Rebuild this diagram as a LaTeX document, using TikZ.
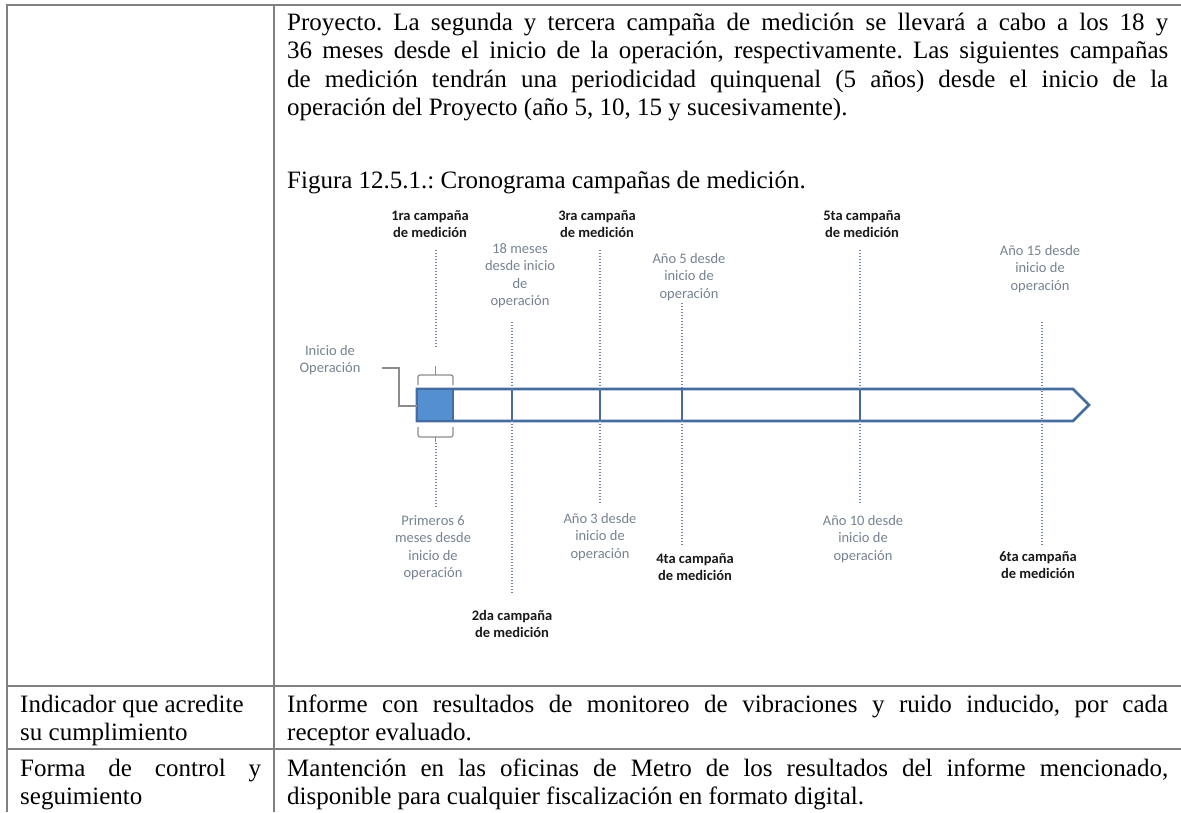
\documentclass[tikz,border=0pt]{standalone}
\usepackage{fontspec}
\setmainfont{Liberation Serif}
\newfontfamily\figfont{Carlito}
\frenchspacing
\definecolor{tblline}{RGB}{128,128,128}
\definecolor{barblue}{RGB}{68,108,158}
\definecolor{sqblue}{RGB}{84,143,207}
\definecolor{dotblue}{RGB}{110,132,160}
\definecolor{lblgrey}{RGB}{118,130,145}
\definecolor{brk}{RGB}{140,140,140}
\begin{document}
\begin{tikzpicture}[x=1pt,y=-1pt,
 txt/.style={anchor=base west,inner sep=0pt,font=\fontsize{25}{28.5}\selectfont\frenchspacing},
 lbl/.style={align=center,inner sep=0pt,anchor=north,text=lblgrey,font=\figfont\fontsize{14.5}{17.5}\selectfont},
 blbl/.style={align=center,inner sep=0pt,anchor=north,text=black!90,font=\figfont\bfseries\fontsize{14.5}{17.5}\selectfont},
 dots/.style={dotblue,line width=2pt,dash pattern=on 1.4pt off 1.6pt},
 tbl/.style={tblline,line width=1.6pt},
 brace/.style={brk,line width=1.2pt,rounded corners=2pt},
 divline/.style={barblue,line width=2.2pt}]
\useasboundingbox (0,0) rectangle (1181,812);
% table
\draw[tbl] (7,812) |- (1181,5);
\draw[tbl] (274,5) -- (274,812);
\draw[tbl] (7,686) -- (1181,686);
\draw[tbl] (7,749) -- (1181,749);
% paragraph
\node[txt] (p1) at (287,30) {\makebox[881pt][s]{Proyecto. La segunda y tercera campaña de medición se llevará a cabo a los 18 y}};
\node[txt] (p2) at (287,58.5) {\makebox[881pt][s]{36 meses desde el inicio de la operación, respectivamente. Las siguientes campañas}};
\node[txt] (p3) at (287,87) {\makebox[881pt][s]{de medición tendrán una periodicidad quinquenal (5 años) desde el inicio de la}};
\node[txt] (p4) at (287,115.5) {operación del Proyecto (año 5, 10, 15 y sucesivamente).};
\node[txt] (fig) at (287,188) {Figura 12.5.1.: Cronograma campañas de medición.};
% rows
\node[txt] (r2a) at (20,712) {Indicador que acredite};
\node[txt] (r2b) at (20,740.5) {su cumplimiento};
\node[txt] (r2c) at (287,712) {\makebox[881pt][s]{Informe con resultados de monitoreo de vibraciones y ruido inducido, por cada}};
\node[txt] (r2d) at (287,740.5) {receptor evaluado.};
\node[txt] (r3a) at (20,776) {\makebox[241pt][s]{Forma de control y}};
\node[txt] (r3b) at (20,804) {seguimiento};
\node[txt] (r3c) at (287,776) {\makebox[881pt][s]{Mantención en las oficinas de Metro de los resultados del informe mencionado,}};
\node[txt] (r3d) at (287,804) {disponible para cualquier fiscalización en formato digital.};
% timeline bar
\draw[barblue,line width=2.6pt,fill=white,line join=miter] (417,389) -- (1073,389) -- (1089,405) -- (1073,421) -- (417,421) -- cycle;
\draw[barblue,line width=2pt,fill=sqblue] (417,389) rectangle (453,421);
\draw[divline] (512,389) -- (512,421);
\draw[divline] (600,389) -- (600,421);
\draw[divline] (682,389) -- (682,421);
\draw[divline] (860,389) -- (860,421);
% labels
\node[blbl] (c1) at (430,210) {1ra campaña\\de medición};
\node[blbl] (c3) at (597,210) {3ra campaña\\de medición};
\node[blbl] (c5) at (862,210) {5ta campaña\\de medición};
\node[lbl] (m18) at (520,243) {18 meses\\desde inicio\\de\\operación};
\node[lbl] (a5) at (689,253) {Año 5 desde\\inicio de\\operación};
\node[lbl] (a15) at (1040,245) {Año 15 desde\\inicio de\\operación};
\node[lbl] (ini) at (330,345) {Inicio de\\Operación};
\node[lbl] (p6) at (433,515) {Primeros 6\\meses desde\\inicio de\\operación};
\node[lbl] (a3) at (600,513) {Año 3 desde\\inicio de\\operación};
\node[lbl] (a10) at (863,515) {Año 10 desde\\inicio de\\operación};
\node[blbl] (c4) at (695,553) {4ta campaña\\de medición};
\node[blbl] (c6) at (1038,551) {6ta campaña\\de medición};
\node[blbl] (c2) at (512,610) {2da campaña\\de medición};
% dotted leaders
\draw[dots] (436,250) -- (436,348);
\draw[dots] (436,443) -- (436,508);
\draw[dots] (512,322) -- (512,389);
\draw[dots] (512,421) -- (512,593);
\draw[dots] (600,250) -- (600,389);
\draw[dots] (600,421) -- (600,505);
\draw[dots] (682,303) -- (682,389);
\draw[dots] (682,421) -- (682,545);
\draw[dots] (860,250) -- (860,389);
\draw[dots] (860,421) -- (860,503);
\draw[dots] (1042,322) -- (1042,545);
% braces
\draw[brace] (418,385) -- (418,375) -- (453,375) -- (453,385);
\draw[brace] (435.5,375) -- (435.5,366);
\draw[brace] (418,427) -- (418,437) -- (453,437) -- (453,427);
\draw[brace] (435.5,437) -- (435.5,442);
% connector from Inicio de Operacion
\coordinate (k1) at (382,368);
\coordinate (k2) at (417,406);
\draw[brk,line width=1.2pt] (k1) -- (399,368) |- (k2);
\end{tikzpicture}
\end{document}
